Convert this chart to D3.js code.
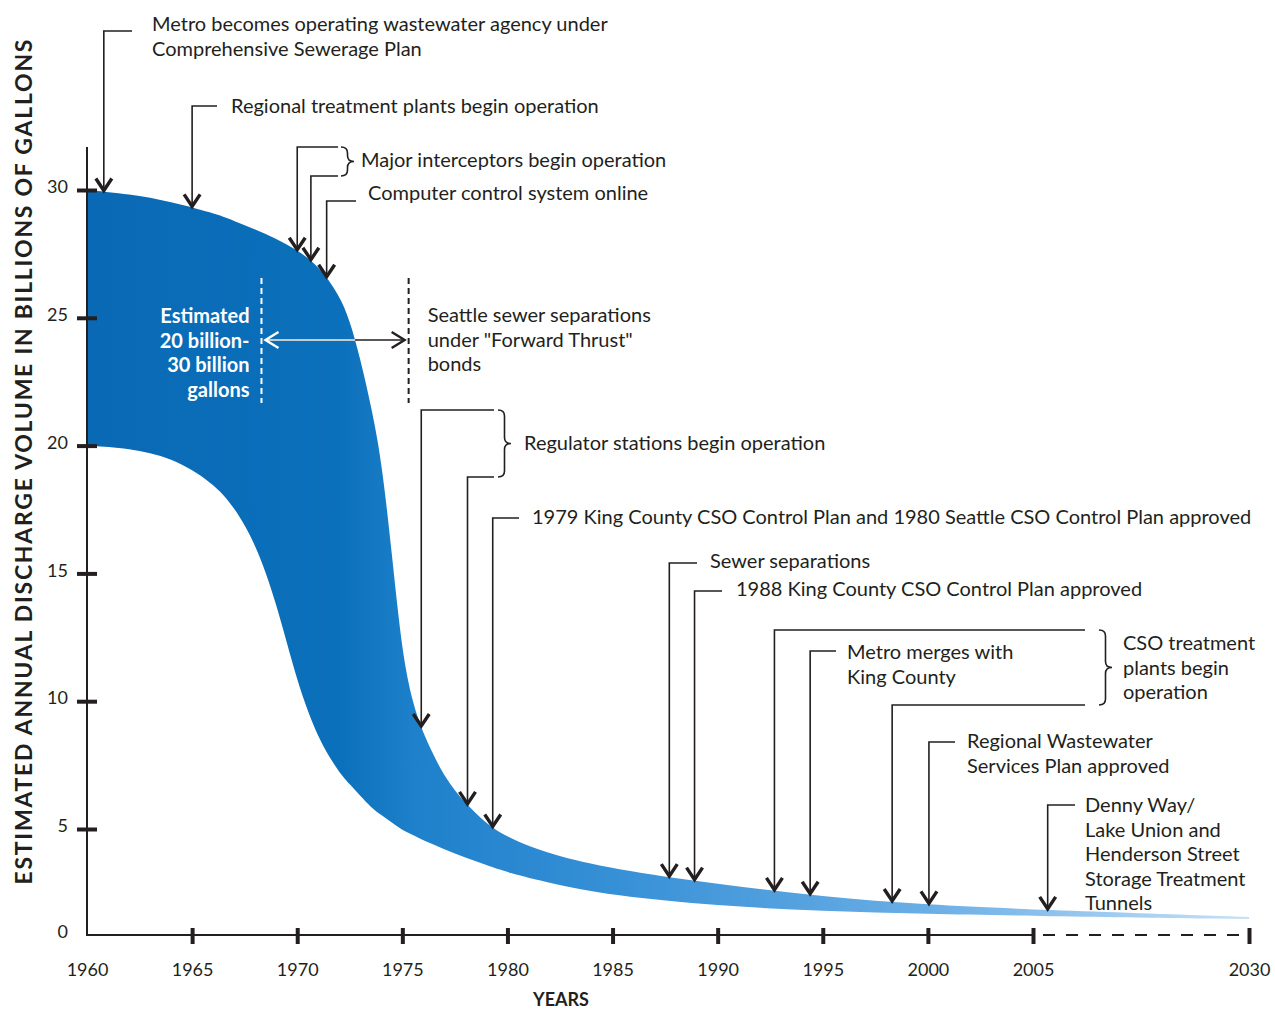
<!DOCTYPE html>
<html>
<head>
<meta charset="utf-8">
<script src="https://cdn.jsdelivr.net/npm/d3@7"></script>
<style>
    body { margin: 0; background: #fff; }
    svg { display: block; font-family: Lato, "Open Sans", sans-serif; }
</style>
</head>
<body>
<div id="chart"></div>
<script>
// Estimated annual CSO discharge volume (billions of gallons), upper and lower estimate.
const years = [1960, 1962, 1964, 1966, 1967, 1968, 1969, 1970, 1971, 1972, 1972.5, 1973, 1973.5,
    1974, 1974.5, 1975, 1975.5, 1976, 1977, 1978, 1979, 1980, 1982, 1985, 1990, 1995, 2000, 2005, 2030];
const upperVolume = [30, 29.85, 29.55, 29.1, 28.8, 28.45, 28.1, 27.65, 27.05, 25.9, 24.9, 23.4, 21.6,
    19.5, 15.8, 11.8, 9.9, 8.7, 7.0, 6.0, 5.2, 4.6, 3.8, 3.1, 2.4, 1.8, 1.42, 1.2, 0.85];
const lowerVolume = [20, 19.9, 19.55, 18.55, 17.6, 16.2, 13.9, 10.7, 8.5, 7.2, 6.75, 6.3, 5.85,
    5.55, 5.25, 4.95, 4.72, 4.45, 4.05, 3.65, 3.3, 2.95, 2.45, 1.85, 1.37, 1.13, 0.99, 0.9, 0.75];

const xTicks = [1960, 1965, 1970, 1975, 1980, 1985, 1990, 1995, 2000, 2005, 2030];
const yTicks = [0, 5, 10, 15, 20, 25, 30];

// Milestones: year(s) each arrow points at, and the label text.
const eventYears = [
    [1960.8], [1965], [1970, 1970.65], [1971.4], [1975.9, 1978.1], [1979.3],
    [1987.7], [1988.9], [1992.7, 1998.3], [1994.4], [2000.05], [2006.7]
];
const eventLabels = [
    ["Metro becomes operating wastewater agency under", "Comprehensive Sewerage Plan"],
    ["Regional treatment plants begin operation"],
    ["Major interceptors begin operation"],
    ["Computer control system online"],
    ["Regulator stations begin operation"],
    ["1979 King County CSO Control Plan and 1980 Seattle CSO Control Plan approved"],
    ["Sewer separations"],
    ["1988 King County CSO Control Plan approved"],
    ["CSO treatment", "plants begin", "operation"],
    ["Metro merges with", "King County"],
    ["Regional Wastewater", "Services Plan approved"],
    ["Denny Way/", "Lake Union and", "Henderson Street", "Storage Treatment", "Tunnels"]
];

const forwardThrust = [1968.3, 1975.3];
const estimateLabel = ["Estimated", "20 billion-", "30 billion", "gallons"];
const forwardThrustLabel = ["Seattle sewer separations", "under \"Forward Thrust\"", "bonds"];

// Where each label sits (elbow heights, end of the leader, text origin).
const eventLayout = [
    {tops: [31], end: 132, textX: 152, textY: 24},
    {tops: [106], end: 217, textX: 231, textY: 106},
    {tops: [147, 176], end: 338, braceX: 341, textX: 361, textY: 160},
    {tops: [201], end: 356, textX: 368, textY: 193},
    {tops: [410, 477], end: 494, braceX: 498, textX: 524, textY: 443},
    {tops: [518], end: 519, textX: 532, textY: 517},
    {tops: [563], end: 697, textX: 710, textY: 561},
    {tops: [591], end: 722, textX: 736, textY: 589},
    {tops: [630, 705], end: 1085, braceX: 1099, textX: 1123, textY: 643},
    {tops: [651], end: 836, textX: 847, textY: 652},
    {tops: [742], end: 955, textX: 967, textY: 741},
    {tops: [805], end: 1075, textX: 1085, textY: 805}
];

const width = 1275;
const height = 1011;
const ink = "#231f20";
const lineHeight = 24.6;

const svg = d3.select("#chart").append("svg")
    .attr("width", width)
    .attr("height", height);

// Both axes are broken: 2005-2030 and 0-5 are squeezed.
const x = d3.scaleLinear().domain([1960, 2005, 2030]).range([87, 1033, 1249]);
const y = d3.scaleLinear().domain([0, 5, 30]).range([935, 829, 190]);

const flow = years.map((yr, i) => ({year: yr, hi: upperVolume[i], lo: lowerVolume[i]}));

const area = d3.area()
    .x(d => x(d.year))
    .y0(d => y(d.lo))
    .y1(d => y(d.hi))
    .curve(d3.curveBasis);

const defs = svg.append("defs");
const grad = defs.append("linearGradient")
    .attr("id", "flowFill")
    .attr("gradientUnits", "userSpaceOnUse")
    .attr("x1", x(1960)).attr("x2", x(2030))
    .attr("y1", 0).attr("y2", 0);
[[1960, "#0a69b5"], [1972, "#0b70bb"], [1975.5, "#1e80cb"], [1985, "#3690d6"],
    [2000, "#6aaee6"], [2030, "#c6e1f7"]].forEach(([yr, c]) => {
    grad.append("stop")
        .attr("offset", (x(yr) - x(1960)) / (x(2030) - x(1960)))
        .attr("stop-color", c);
});

defs.append("clipPath").attr("id", "bandClip")
    .append("path").datum(flow).attr("d", area);

svg.append("path")
    .datum(flow)
    .attr("d", area)
    .attr("fill", "url(#flowFill)");

// Invisible copy of the upper edge, used to find where arrows touch the band.
const probe = svg.append("path")
    .attr("d", d3.line().x(d => x(d.year)).y(d => y(d.hi)).curve(d3.curveBasis)(flow))
    .attr("fill", "none")
    .attr("stroke", "none")
    .node();
const probeLength = probe.getTotalLength();

function edgeY(px) {
    let a = 0, b = probeLength;
    for (let i = 0; i < 40; i++) {
        const mid = (a + b) / 2;
        if (probe.getPointAtLength(mid).x < px) a = mid; else b = mid;
    }
    return probe.getPointAtLength(a).y;
}

// ---- axes
const yAxisG = svg.append("g")
    .attr("transform", `translate(${x(1960)},0)`)
    .call(d3.axisLeft(y).tickValues(yTicks).tickSize(10).tickFormat(d3.format("d")));
yAxisG.select(".domain").remove();
yAxisG.attr("font-family", null);
yAxisG.selectAll(".tick line")
    .attr("x1", 10)
    .attr("stroke", ink)
    .attr("stroke-width", 4)
    .filter(d => d === 0).remove();
yAxisG.selectAll(".tick text")
    .attr("x", -19)
    .attr("y", -3)
    .attr("fill", ink)
    .attr("font-size", 18);

const xAxisG = svg.append("g")
    .attr("transform", `translate(0,${y(0)})`)
    .call(d3.axisBottom(x).tickValues(xTicks).tickSize(9).tickFormat(d3.format("d")));
xAxisG.select(".domain").remove();
xAxisG.attr("font-family", null);
xAxisG.selectAll(".tick line")
    .attr("y1", -7)
    .attr("stroke", ink)
    .attr("stroke-width", 4)
    .filter(d => d === 1960).remove();
xAxisG.selectAll(".tick text")
    .attr("y", 35)
    .attr("dy", "0.35em")
    .attr("fill", ink)
    .attr("font-size", 18);

svg.append("line")
    .attr("x1", x(1960)).attr("x2", x(1960))
    .attr("y1", y(30) - 43).attr("y2", y(0))
    .attr("stroke", ink).attr("stroke-width", 2);
svg.append("line")
    .attr("x1", x(1960) - 1).attr("x2", x(2005))
    .attr("y1", y(0)).attr("y2", y(0))
    .attr("stroke", ink).attr("stroke-width", 2);
svg.append("line")
    .attr("x1", x(2005) + 10).attr("x2", x(2030))
    .attr("y1", y(0)).attr("y2", y(0))
    .attr("stroke", ink).attr("stroke-width", 2)
    .attr("stroke-dasharray", "12,11");

svg.append("text")
    .attr("transform", "translate(24,462) rotate(-90)")
    .attr("text-anchor", "middle")
    .attr("dy", "0.35em")
    .attr("font-weight", 700)
    .attr("font-size", 23)
    .attr("textLength", 845)
    .attr("lengthAdjust", "spacing")
    .attr("fill", ink)
    .text("ESTIMATED ANNUAL DISCHARGE VOLUME IN BILLIONS OF GALLONS");

svg.append("text")
    .attr("x", 561)
    .attr("y", 1000)
    .attr("dy", "0.35em")
    .attr("text-anchor", "middle")
    .attr("font-weight", 700)
    .attr("font-size", 18)
    .attr("fill", ink)
    .text("YEARS");

// ---- milestone arrows
const notes = svg.append("g")
    .attr("fill", ink)
    .attr("font-size", 20);

function arrowHead(parent, px, py) {
    parent.append("path")
        .attr("d", "M-8,-12L0,0L8,-12")
        .attr("transform", `translate(${px},${py - 3})`)
        .attr("fill", "none")
        .attr("stroke", ink)
        .attr("stroke-width", 3.4)
        .attr("stroke-linejoin", "miter");
}

function brace(parent, bx, y0, y1) {
    const w = 13, r = 6, m = (y0 + y1) / 2, h = bx + w / 2;
    parent.append("path")
        .attr("d", `M${bx},${y0}Q${h},${y0} ${h},${y0 + r}V${m - r}Q${h},${m} ${bx + w},${m}` +
            `Q${h},${m} ${h},${m + r}V${y1 - r}Q${h},${y1} ${bx},${y1}`)
        .attr("fill", "none")
        .attr("stroke", ink)
        .attr("stroke-width", 1.6);
}

eventYears.forEach((yrs, i) => {
    const lay = eventLayout[i];
    yrs.forEach((yr, j) => {
        const px = x(yr);
        const tip = edgeY(px) + 2;
        notes.append("path")
            .attr("d", `M${lay.end},${lay.tops[j]}H${px}V${tip - 4}`)
            .attr("fill", "none")
            .attr("stroke", ink)
            .attr("stroke-width", 1.6);
        arrowHead(notes, px, tip);
    });
    if (yrs.length > 1) brace(notes, lay.braceX, lay.tops[0], lay.tops[1]);
    eventLabels[i].forEach((line, k) => {
        notes.append("text")
            .attr("x", lay.textX)
            .attr("y", lay.textY + k * lineHeight)
            .attr("dy", "0.35em")
            .text(line);
    });
});

// ---- Forward Thrust period marker
const fx0 = x(forwardThrust[0]);
const fx1 = x(forwardThrust[1]);
const fy = 340;

svg.append("line")
    .attr("x1", fx0).attr("x2", fx0).attr("y1", 278).attr("y2", 403)
    .attr("stroke", "#fff").attr("stroke-width", 2).attr("stroke-dasharray", "6,4");
svg.append("line")
    .attr("x1", fx1).attr("x2", fx1).attr("y1", 278).attr("y2", 403)
    .attr("stroke", ink).attr("stroke-width", 2).attr("stroke-dasharray", "6,4");

svg.append("line")
    .attr("x1", fx0 + 4).attr("x2", fx1 - 4).attr("y1", fy).attr("y2", fy)
    .attr("stroke", ink).attr("stroke-width", 1.6);
svg.append("line")
    .attr("x1", fx0 + 4).attr("x2", fx1 - 4).attr("y1", fy).attr("y2", fy)
    .attr("stroke", "#fff").attr("stroke-width", 1.6)
    .attr("clip-path", "url(#bandClip)");

svg.append("path")
    .attr("d", "M13,-8L0,0L13,8")
    .attr("transform", `translate(${fx0 + 4},${fy})`)
    .attr("fill", "none")
    .attr("stroke", "#fff")
    .attr("stroke-width", 2.4);
svg.append("path")
    .attr("d", "M-13,-8L0,0L-13,8")
    .attr("transform", `translate(${fx1 - 4},${fy})`)
    .attr("fill", "none")
    .attr("stroke", ink)
    .attr("stroke-width", 2.4);

svg.append("g")
    .attr("fill", "#fff")
    .attr("font-size", 20)
    .attr("font-weight", 700)
    .attr("text-anchor", "end")
    .selectAll("text")
    .data(estimateLabel)
    .join("text")
    .attr("x", fx0 - 12)
    .attr("y", (d, i) => 316 + i * lineHeight)
    .attr("dy", "0.35em")
    .text(d => d);

svg.append("g")
    .attr("fill", ink)
    .attr("font-size", 20)
    .selectAll("text")
    .data(forwardThrustLabel)
    .join("text")
    .attr("x", fx1 + 19)
    .attr("y", (d, i) => 315 + i * lineHeight)
    .attr("dy", "0.35em")
    .text(d => d);
</script>
</body>
</html>
